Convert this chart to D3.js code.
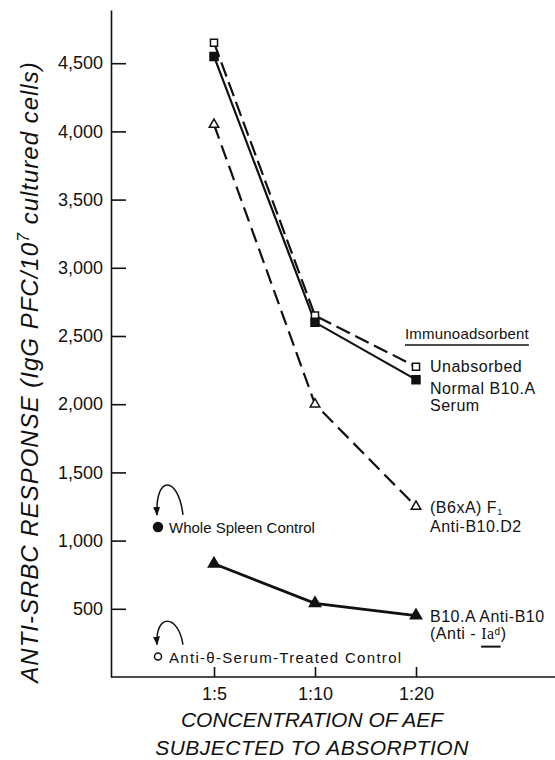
<!DOCTYPE html>
<html>
<head>
<meta charset="utf-8">
<script src="https://cdn.jsdelivr.net/npm/d3@7"></script>
<style>
  body { margin: 0; background: #fff; }
  text { font-family: 'Liberation Sans', Arial, sans-serif; fill: #111; }
</style>
</head>
<body>
<div id="viz"></div>
<script>
var width = 555,
    height = 760;

// data
var concentrations = ['1:5', '1:10', '1:20'];
var unabsorbed = [4650, 2650, 2275];
var normalSerum = [4550, 2600, 2180];
var b6xaF1 = [4050, 2000, 1250];
var b10aAntiB10 = [830, 540, 450];
var wholeSpleenControl = 1100;
var antiThetaControl = 150;
var yTicks = [500, 1000, 1500, 2000, 2500, 3000, 3500, 4000, 4500];

var ink = '#111';

var svg = d3.select('#viz')
  .append('svg')
  .attr('width', width)
  .attr('height', height)
  .style('background', '#fff');

var x = d3.scalePoint()
  .domain(concentrations)
  .range([214, 416]);

var y = d3.scaleLinear()
  .domain([0, 4890])
  .range([677, 10]);

var axisX = 111;

// arrow head for the control annotations
var defs = svg.append('defs');
defs.append('marker')
  .attr('id', 'arrow')
  .attr('markerUnits', 'userSpaceOnUse')
  .attr('markerWidth', 9)
  .attr('markerHeight', 8)
  .attr('refX', 8)
  .attr('refY', 3.5)
  .attr('orient', 'auto')
  .append('path')
  .attr('d', 'M0,0 L9,3.5 L0,7 Z')
  .attr('fill', ink);

//eje Y
var yAxis = svg.append('g')
  .attr('transform', 'translate(' + axisX + ',0)')
  .call(d3.axisLeft(y).tickValues(yTicks).tickFormat(d3.format(','))
    .tickSize(-15).tickSizeOuter(0).tickPadding(8));
yAxis.selectAll('path, line').attr('stroke', ink).attr('stroke-width', 1.6);
yAxis.selectAll('text').style('font-size', '18px').style('font-family', "'Liberation Sans', Arial, sans-serif").attr('fill', ink);

//eje X
svg.append('line')
  .attr('x1', axisX).attr('x2', width)
  .attr('y1', y(0)).attr('y2', y(0))
  .attr('stroke', ink).attr('stroke-width', 1.6);

var xAxis = svg.append('g')
  .attr('transform', 'translate(0,' + y(0) + ')')
  .call(d3.axisBottom(x).tickSize(-10).tickPadding(10));
xAxis.select('.domain').remove();
xAxis.selectAll('line').attr('stroke', ink).attr('stroke-width', 1.6);
xAxis.selectAll('text').style('font-size', '18px').style('font-family', "'Liberation Sans', Arial, sans-serif").attr('fill', ink);

// axis titles
svg.append('text')
  .attr('x', 312).attr('y', 727)
  .attr('text-anchor', 'middle')
  .style('font-size', '21px').style('font-style', 'italic')
  .text('CONCENTRATION OF AEF');
svg.append('text')
  .attr('x', 312).attr('y', 755)
  .attr('text-anchor', 'middle')
  .style('font-size', '21px').style('font-style', 'italic')
  .style('letter-spacing', '0.5px')
  .text('SUBJECTED TO ABSORPTION');

var yTitle = svg.append('text')
  .attr('transform', 'translate(38,372) rotate(-90)')
  .attr('text-anchor', 'middle')
  .style('font-size', '24px').style('font-style', 'italic')
  .style('letter-spacing', '1px');
yTitle.append('tspan').text('ANTI-SRBC RESPONSE (IgG  PFC/10');
yTitle.append('tspan').attr('dy', -9).style('font-size', '16px').text('7');
yTitle.append('tspan').attr('dy', 9).text(' cultured cells)');

// series
var series = [
  { name: 'Unabsorbed', values: unabsorbed, dash: '15,6', width: 2.2, shape: d3.symbolSquare, size: 50, filled: false },
  { name: 'Normal B10.A Serum', values: normalSerum, dash: null, width: 2.2, shape: d3.symbolSquare, size: 64, filled: true },
  { name: '(B6xA) F1 Anti-B10.D2', values: b6xaF1, dash: '15,7', width: 2.2, shape: d3.symbolTriangle, size: 40, filled: false },
  { name: 'B10.A Anti-B10', values: b10aAntiB10, dash: null, width: 2.8, shape: d3.symbolTriangle, size: 55, filled: true }
];

var line = d3.line()
  .x(function(d, i) { return x(concentrations[i]); })
  .y(function(d) { return y(d); });

var g = svg.append('g').attr('class', 'series');

series.forEach(function(s) {
  g.append('path')
    .attr('d', line(s.values))
    .attr('fill', 'none')
    .attr('stroke', ink)
    .attr('stroke-width', s.width)
    .attr('stroke-dasharray', s.dash);
});

series.forEach(function(s) {
  g.selectAll(null)
    .data(s.values)
    .enter().append('path')
    .attr('d', d3.symbol().type(s.shape).size(s.size))
    .attr('transform', function(d, i) { return 'translate(' + x(concentrations[i]) + ',' + y(d) + ')'; })
    .attr('fill', s.filled ? ink : '#fff')
    .attr('stroke', ink)
    .attr('stroke-width', 1.5);
});

// labels next to the 1:20 points
var lx = x('1:20') + 14;
var lab = svg.append('g').style('font-size', '16px').style('letter-spacing', '0.5px');

var head = lab.append('text')
  .attr('x', x('1:20') - 11).attr('y', 339)
  .style('font-size', '15px').style('letter-spacing', '0.2px')
  .text('Immunoadsorbent');
var hw = head.node().getComputedTextLength();
lab.append('line')
  .attr('x1', x('1:20') - 11).attr('x2', x('1:20') - 11 + hw)
  .attr('y1', 345).attr('y2', 345)
  .attr('stroke', ink).attr('stroke-width', 1.5);

lab.append('text').attr('x', lx).attr('y', y(unabsorbed[2]) + 5).text('Unabsorbed');
lab.append('text').attr('x', lx).attr('y', y(normalSerum[2]) + 14).text('Normal B10.A');
lab.append('text').attr('x', lx).attr('y', y(normalSerum[2]) + 31).text('Serum');

var f1 = lab.append('text').attr('x', lx).attr('y', y(b6xaF1[2]) + 7);
f1.append('tspan').text('(B6xA) F');
f1.append('tspan').attr('dy', 2).style('font-size', '9px').text('1');
lab.append('text').attr('x', lx).attr('y', y(b6xaF1[2]) + 26).text('Anti-B10.D2');

lab.append('text').attr('x', lx).attr('y', y(b10aAntiB10[2]) + 6).text('B10.A  Anti-B10');
var ia = lab.append('text').attr('x', lx).attr('y', y(b10aAntiB10[2]) + 23);
ia.append('tspan').text('(Anti - ');
ia.append('tspan').style('font-family', "'Liberation Serif', serif").text('Ia');
ia.append('tspan').attr('dy', -4).style('font-size', '10px').text('d');
ia.append('tspan').attr('dy', 4).text(')');
var ian = ia.node();
var ux1 = ian.getStartPositionOfChar(8).x,
    ux2 = ian.getEndPositionOfChar(10).x;
lab.append('line')
  .attr('x1', ux1).attr('x2', ux2)
  .attr('y1', y(b10aAntiB10[2]) + 31).attr('y2', y(b10aAntiB10[2]) + 31)
  .attr('stroke', ink).attr('stroke-width', 2);

// control points to the left of 1:5
var cx = x('1:5') - 56;
var controls = [
  { value: wholeSpleenControl, label: 'Whole Spleen Control', filled: true, r: 4.5, lift: 52, spacing: 0 },
  { value: antiThetaControl, label: 'Anti-\u03B8-Serum-Treated Control', filled: false, r: 3.5, lift: 43, spacing: 1.3 }
];

controls.forEach(function(c) {
  var cy = y(c.value);
  svg.append('circle')
    .attr('cx', cx).attr('cy', cy).attr('r', c.r)
    .attr('fill', c.filled ? ink : '#fff')
    .attr('stroke', ink).attr('stroke-width', 1.5);
  svg.append('text')
    .attr('x', cx + 11).attr('y', cy + 6)
    .style('font-size', '15px')
    .style('letter-spacing', c.spacing + 'px')
    .text(c.label);
  svg.append('path')
    .attr('d', 'M' + (cx + 25) + ',' + (cy - 12) +
      ' C' + (cx + 20) + ',' + (cy - c.lift) + ' ' + (cx - 3) + ',' + (cy - c.lift) +
      ' ' + (cx - 1) + ',' + (cy - 12))
    .attr('fill', 'none')
    .attr('stroke', ink)
    .attr('stroke-width', 1.5)
    .attr('marker-end', 'url(#arrow)');
});
</script>
</body>
</html>
